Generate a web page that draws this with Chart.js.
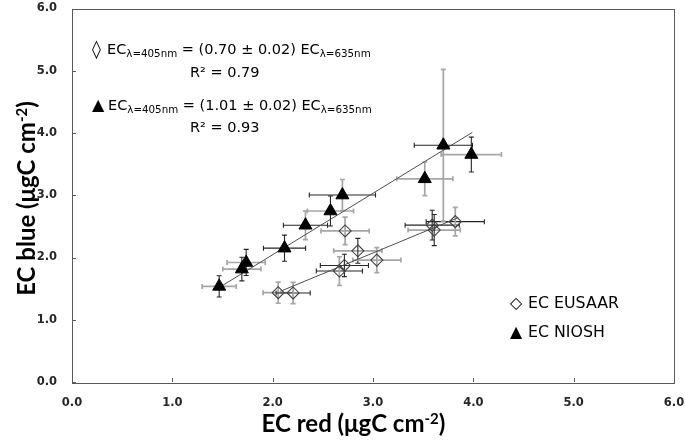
<!DOCTYPE html>
<html><head><meta charset="utf-8">
<script src="https://cdn.jsdelivr.net/npm/chart.js@4.4.1/dist/chart.umd.min.js"></script>
<style>html,body{margin:0;padding:0;background:#fff}canvas{display:block}</style>
</head><body>
<canvas id="c" width="685" height="440"></canvas>
<script>
// ---- data ----
const eusaarX    = [2.055, 2.204, 2.665, 2.715, 2.849, 2.722, 3.038, 3.59, 3.61, 3.82];
const eusaarY    = [1.435, 1.43, 1.782, 1.872, 2.107, 2.427, 1.958, 2.52, 2.44, 2.576];
const eusaarXErr = [0.15, 0.17, 0.23, 0.24, 0.24, 0.24, 0.24, 0.27, 0.26, 0.29];
const eusaarYErr = [0.17, 0.17, 0.23, 0.18, 0.20, 0.22, 0.20, 0.24, 0.25, 0.23];

const nioshX    = [1.467, 1.693, 1.736, 2.118, 2.327, 2.576, 2.695, 3.516, 3.701, 3.98];
const nioshY    = [1.536, 1.814, 1.92, 2.15, 2.518, 2.747, 3.003, 3.264, 3.803, 3.654];
const nioshXErr = [0.17, 0.19, 0.19, 0.21, 0.22, 0.23, 0.33, 0.28, 0.29, 0.30];
const nioshYErr = [0.17, 0.19, 0.21, 0.21, 0.23, 0.24, 0.25, 0.27, 1.22, 0.28];

const eusaarFitX = [2.075, 3.85];
const eusaarFitY = [1.456, 2.64];
const nioshFitX  = [1.469, 3.99];
const nioshFitY  = [1.52, 4.01];

const xTicks = [0, 1, 2, 3, 4, 5, 6];
const yTicks = [0, 1, 2, 3, 4, 5, 6];
const seriesLabels = ['EC EUSAAR', 'EC NIOSH'];

// ---- styles (error bar colours per point) ----
const G = '#a6a6a6', K = '#262626';
const eusaarXCol = [G, K, K, K, G, G, G, K, G, K];
const eusaarYCol = [G, G, G, K, K, G, G, K, K, G];
const nioshXCol  = [G, G, G, K, K, G, K, G, K, G];
const nioshYCol  = [K, K, K, K, G, K, G, G, G, K];

const pts = (xs, ys) => xs.map((v, i) => ({x: v, y: ys[i]}));

function rich(ctx, x, y, segs) {
  let cx = x;
  for (const s of segs) {
    ctx.font = s.font;
    ctx.fillText(s.t, cx, y + (s.dy || 0));
    cx += ctx.measureText(s.t).width;
  }
  return cx - x;
}
function richWidth(ctx, segs) {
  let w = 0;
  for (const s of segs) { ctx.font = s.font; w += ctx.measureText(s.t).width; }
  return w;
}

const deco = {
  id: 'deco',
  beforeDatasetsDraw(chart) {
    const {ctx, chartArea: a, scales: {x, y}} = chart;
    ctx.save();
    // frame + inner ticks
    ctx.strokeStyle = '#595959'; ctx.lineWidth = 1;
    ctx.beginPath();
    for (const v of xTicks) {
      const px = Math.round(x.getPixelForValue(v)) + 0.5;
      ctx.moveTo(px, a.bottom); ctx.lineTo(px, a.bottom - 4);
    }
    for (const v of yTicks) {
      const py = Math.round(y.getPixelForValue(v)) + 0.5;
      ctx.moveTo(a.left, py); ctx.lineTo(a.left + 4, py);
    }
    ctx.stroke();
    ctx.strokeRect(Math.round(a.left) + 0.5, Math.round(a.top) + 0.5, Math.round(a.width), Math.round(a.height));

    // tick labels
    ctx.fillStyle = '#262626';
    ctx.font = 'bold 11.5px "DejaVu Sans"';
    ctx.textBaseline = 'middle';
    ctx.textAlign = 'right';
    for (const v of yTicks) ctx.fillText(v.toFixed(1), a.left - 15, y.getPixelForValue(v));
    ctx.textAlign = 'center';
    for (const v of xTicks) ctx.fillText(v.toFixed(1), x.getPixelForValue(v), a.bottom + 21);

    // error bars
    const sets = [
      [eusaarX, eusaarY, eusaarXErr, eusaarYErr, eusaarXCol, eusaarYCol],
      [nioshX, nioshY, nioshXErr, nioshYErr, nioshXCol, nioshYCol]
    ];
    const cap = 2.5;
    for (const [xs, ys, xe, ye, xc, yc] of sets) {
      xs.forEach((xv, i) => {
        const yv = ys[i];
        const py = y.getPixelForValue(yv), px = x.getPixelForValue(xv);
        const x0 = x.getPixelForValue(xv - xe[i]), x1 = x.getPixelForValue(xv + xe[i]);
        ctx.strokeStyle = xc[i]; ctx.lineWidth = xc[i] === G ? 1.7 : 1.1;
        ctx.beginPath();
        ctx.moveTo(x0, py); ctx.lineTo(x1, py);
        ctx.moveTo(x0, py - cap); ctx.lineTo(x0, py + cap);
        ctx.moveTo(x1, py - cap); ctx.lineTo(x1, py + cap);
        ctx.stroke();
        const y0 = y.getPixelForValue(yv - ye[i]), y1 = y.getPixelForValue(yv + ye[i]);
        ctx.strokeStyle = yc[i]; ctx.lineWidth = yc[i] === G ? 1.7 : 1.1;
        ctx.beginPath();
        ctx.moveTo(px, y0); ctx.lineTo(px, y1);
        ctx.moveTo(px - cap, y0); ctx.lineTo(px + cap, y0);
        ctx.moveTo(px - cap, y1); ctx.lineTo(px + cap, y1);
        ctx.stroke();
      });
    }
    ctx.restore();
  },
  afterDraw(chart) {
    const {ctx} = chart;
    ctx.save();
    ctx.fillStyle = '#000';
    ctx.textAlign = 'left'; ctx.textBaseline = 'alphabetic';
    const M = '14.5px "DejaVu Sans"', S = '10.3px "DejaVu Sans"';
    // equation 1
    ctx.font = '18px "DejaVu Sans"';
    ctx.fillText('\u25CA', 92, 55);
    rich(ctx, 107, 54, [
      {t: 'EC', font: M}, {t: '\u03BB=405nm', font: S, dy: 3},
      {t: ' = (0.70 \u00B1 0.02) EC', font: M}, {t: '\u03BB=635nm', font: S, dy: 3}
    ]);
    rich(ctx, 190, 77, [{t: 'R\u00B2 = 0.79', font: M}]);
    // equation 2
    ctx.font = '16px "DejaVu Sans"';
    ctx.fillText('\u25B2', 92, 110);
    rich(ctx, 108, 110, [
      {t: 'EC', font: M}, {t: '\u03BB=405nm', font: S, dy: 3},
      {t: ' = (1.01 \u00B1 0.02) EC', font: M}, {t: '\u03BB=635nm', font: S, dy: 3}
    ]);
    rich(ctx, 190, 132, [{t: 'R\u00B2 = 0.93', font: M}]);

    // legend
    ctx.font = '15.8px "DejaVu Sans"';
    ctx.fillText('\u25C7', 510, 308);
    ctx.fillText(seriesLabels[0], 528, 308);
    ctx.fillText('\u25B2', 510, 337);
    ctx.fillText(seriesLabels[1], 528, 337);

    // axis titles
    const T = 'bold 24px Lato', TS = 'bold 15px Lato';
    const xt = [{t: 'EC red (\u03BCgC cm', font: T}, {t: '-2', font: TS, dy: -8}, {t: ')', font: T}];
    let w = richWidth(ctx, xt);
    rich(ctx, 353.5 - w / 2, 432, xt);
    const yt = [{t: 'EC blue (\u03BCgC cm', font: T}, {t: '-2', font: TS, dy: -8}, {t: ')', font: T}];
    w = richWidth(ctx, yt);
    ctx.translate(35, 198.5);
    ctx.rotate(-Math.PI / 2);
    rich(ctx, -w / 2, 0, yt);
    ctx.restore();
  }
};

new Chart(document.getElementById('c'), {
  type: 'scatter',
  data: {
    datasets: [
      {label: seriesLabels[0], data: pts(eusaarX, eusaarY), pointStyle: 'rectRot', pointRadius: 6,
       borderColor: '#404040', borderWidth: 1.1, backgroundColor: 'rgba(0,0,0,0)', order: 0},
      {label: seriesLabels[1], data: pts(nioshX, nioshY), pointStyle: 'triangle', pointRadius: 7.5,
       borderColor: '#000', borderWidth: 1, backgroundColor: '#000', order: 0},
      {label: 'fit1', data: pts(eusaarFitX, eusaarFitY), showLine: true, pointRadius: 0,
       borderColor: '#4d4d4d', borderWidth: 1, order: 1},
      {label: 'fit2', data: pts(nioshFitX, nioshFitY), showLine: true, pointRadius: 0,
       borderColor: '#4d4d4d', borderWidth: 1, order: 1}
    ]
  },
  options: {
    responsive: false, animation: false, devicePixelRatio: 1,
    layout: {padding: {top: 7, right: 11, left: 0, bottom: 0}},
    plugins: {legend: {display: false}, tooltip: {enabled: false}},
    scales: {
      x: {
        type: 'linear', min: 0, max: 6,
        afterFit: s => { s.height = 58; },
        grid: {display: false, drawTicks: false}, border: {display: false},
        ticks: {display: false}
      },
      y: {
        type: 'linear', min: 0, max: 6,
        afterFit: s => { s.width = 72; },
        grid: {display: false, drawTicks: false}, border: {display: false},
        ticks: {display: false}
      }
    }
  },
  plugins: [deco]
});
</script>
</body></html>
